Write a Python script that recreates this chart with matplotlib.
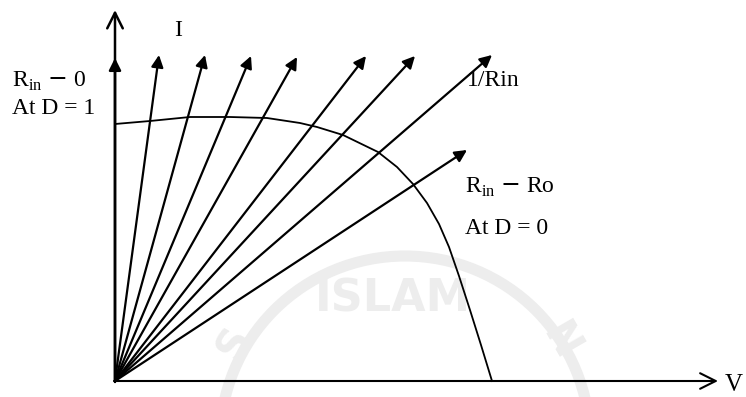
import matplotlib.pyplot as plt
from matplotlib.patches import Arc

# arrow tips (V, I), origin at (0, 0)
tip_v = [44, 90, 136, 182, 251, 300, 377, 352]
tip_i = [326, 326, 325, 324, 325, 325, 326, 231]

# source I-V curve
curve_v = [0, 35, 75, 115, 152, 185, 202, 228, 263, 282, 298, 312, 324, 334, 344, 355, 366, 377]
curve_i = [257, 260, 264, 264, 263, 258, 254, 246, 229, 214, 197, 178, 157, 134, 105, 71, 36, 0]

plt.rcParams['font.family'] = ['Liberation Serif', 'DejaVu Serif']

fig = plt.figure(figsize=(7.46, 3.97), dpi=100)
ax = fig.add_axes([0, 0, 1, 1])
ax.set_xlim(-115, 631)
ax.set_ylim(-16, 381)
ax.axis('off')

# faint watermark
wm = '#ededed'
ax.add_patch(Arc((290, -60), 370, 370, theta1=0, theta2=180, lw=8, color=wm, zorder=0))
ax.text(278, 82, 'ISLAM', fontsize=32, family='DejaVu Sans', weight='bold',
        color=wm, ha='center', va='center', zorder=0)
ax.text(120, 38, 'S', fontsize=30, family='DejaVu Sans', weight='bold',
        color=wm, ha='center', va='center', rotation=60, zorder=0)
ax.text(445, 40, 'N', fontsize=30, family='DejaVu Sans', weight='bold',
        color=wm, ha='center', va='center', rotation=-60, zorder=0)

# axes
ax.annotate('', xy=(0, 371), xytext=(0, -1),
            arrowprops=dict(arrowstyle='->', lw=1.8, color='black',
                            mutation_scale=28, shrinkA=0, shrinkB=0))
ax.annotate('', xy=(603, 0), xytext=(-1, 0),
            arrowprops=dict(arrowstyle='->', lw=1.5, color='black',
                            mutation_scale=28, shrinkA=0, shrinkB=0))
ax.annotate('', xy=(0, 323), xytext=(0, 0),
            arrowprops=dict(arrowstyle='-|>', lw=1.8, color='black',
                            mutation_scale=18, shrinkA=0, shrinkB=0))

# load lines
for v, i in zip(tip_v, tip_i):
    ax.annotate('', xy=(v, i), xytext=(0, 0),
                arrowprops=dict(arrowstyle='-|>', lw=1.6, color='black',
                                mutation_scale=18, shrinkA=0, shrinkB=0))

ax.plot(curve_v, curve_i, color='black', lw=1.3)

fs = 17
ax.text(63, 350, 'I', fontsize=fs, ha='center', va='center')
ax.text(-103, 300, r'R$_{\mathregular{in}}$ $-$ 0', fontsize=fs, ha='left', va='center')
ax.text(-103, 273, 'At D = 1', fontsize=fs, ha='left', va='center')
ax.text(352, 300, '1/Rin', fontsize=fs, ha='left', va='center')
ax.text(350, 194, r'R$_{\mathregular{in}}$ $-$ Ro', fontsize=fs, ha='left', va='center')
ax.text(350, 152, 'At D = 0', fontsize=fs, ha='left', va='center')
ax.text(610, -4, 'V', fontsize=fs + 1, ha='left', va='center')

fig.savefig('out.png', dpi=100)
